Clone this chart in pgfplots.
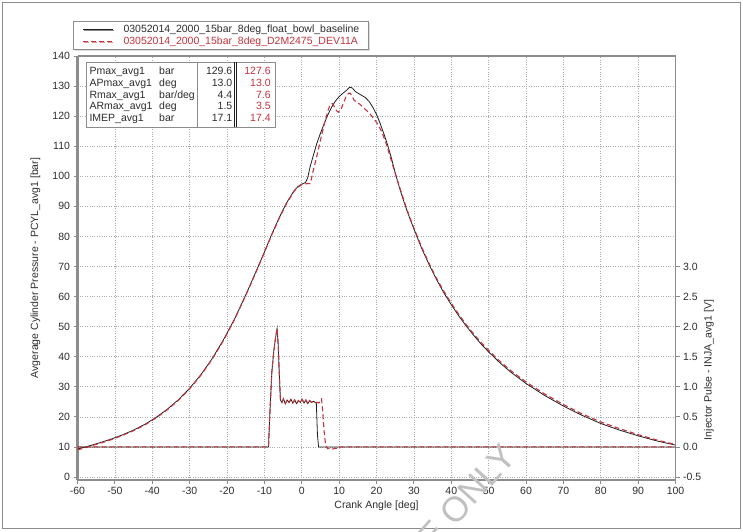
\documentclass[border=0pt]{standalone}
\usepackage{fontspec}
\setmainfont{Liberation Sans}
\usepackage{pgfplots}
\usepackage{pgfplotstable}
\pgfplotsset{compat=1.18}
\usetikzlibrary{shadows}
\definecolor{cblack}{RGB}{30,30,30}
\definecolor{cred}{RGB}{196,52,62}
\definecolor{axgray}{RGB}{140,140,140}
\definecolor{txt}{RGB}{45,45,45}
\definecolor{gridc}{RGB}{170,170,170}
\definecolor{wm}{RGB}{192,192,192}

\pgfplotstableread{
x y
-60 9.3
-57 10.3
-54 11.4
-51 12.6
-48 14.0
-45 15.6
-42 17.5
-39 19.8
-36 22.5
-33 25.7
-30 29.5
-27 34.0
-24 39.3
-21 45.5
-18 52.5
-15 60.5
-12 69.0
-10 74.8
-8 80.8
-6 86.3
-4 91.3
-2 95.3
-1 96.6
0 97.4
1 97.9
1.6 99.5
2.2 103.0
3 106.5
4 110.8
5 114.3
6 117.5
7 120.5
8 123.0
9 125.0
10 126.5
11 127.6
12 128.6
12.6 129.4
13 129.6
13.6 129.3
14.3 128.2
15.5 127.3
17 126.2
18 124.9
19 123.0
20 120.6
21 117.5
22 114.0
23 110.3
24 106.0
25 101.2
26 96.8
27 92.8
28 89.1
29 85.7
30 82.5
32 76.3
34 70.8
36 65.8
38 61.3
40 57.3
42 53.6
44 50.2
46 47.1
48 44.2
50 41.6
53 38.0
56 34.8
60 31.1
65 27.1
70 23.6
75 20.5
80 17.8
85 15.6
90 13.7
95 12.0
100 10.6
}\pbase

\pgfplotstableread{
x y
-60 9.0
-57 10.1
-54 11.2
-51 12.4
-48 13.8
-45 15.4
-42 17.3
-39 19.6
-36 22.3
-33 25.5
-30 29.3
-27 33.8
-24 39.1
-21 45.3
-18 52.3
-15 60.3
-12 68.8
-10 74.6
-8 80.6
-6 86.1
-4 91.1
-2 95.1
-1 96.4
0 97.2
1 97.5
2.3 97.6
3 101.5
4 106.5
5 112.0
6 117.2
7 121.8
7.6 123.8
8.2 124.2
8.8 123.0
9.3 121.8
9.8 121.3
10.5 122.3
11.3 124.8
12 127.0
12.6 127.6
13 127.6
13.5 126.6
14 125.3
14.7 124.6
15.5 124.0
16.5 122.8
17.5 121.7
18.5 120.4
19.5 118.8
20.5 117.0
21.5 114.5
22.5 111.2
23.5 107.2
24.5 103.0
25.5 99.0
26.5 95.2
27.5 91.4
28.5 87.7
30 82.8
32 76.7
34 71.2
36 66.2
38 61.8
40 57.8
42 54.1
44 50.7
46 47.6
48 44.7
50 42.1
53 38.5
56 35.3
60 31.6
65 27.6
70 24.1
75 21.0
80 18.3
85 16.1
90 14.1
95 12.3
100 10.8
}\pdev

\pgfplotstableread{
x y
-60 0
-8.9 0
-8.5 0.6
-8.0 1.25
-7.5 1.58
-7.0 1.82
-6.6 1.97
-6.3 1.7
-6.0 1.2
-5.7 0.78
-5.3 0.74
-4.9 0.80
-4.4 0.72
-3.9 0.78
-3.4 0.74
-2.9 0.79
-2.4 0.73
-1.9 0.78
-1.4 0.72
-0.9 0.77
-0.4 0.74
0.1 0.79
0.6 0.73
1.1 0.78
1.6 0.72
2.1 0.77
2.6 0.74
3.1 0.76
3.6 0.74
3.9 0.73
4.2 0.2
4.5 0
100 0
}\ibase

\pgfplotstableread{
x y
-60 0
-8.9 0
-8.5 0.6
-8.0 1.25
-7.5 1.58
-7.0 1.82
-6.6 1.97
-6.3 1.7
-6.0 1.2
-5.7 0.78
-5.3 0.74
-4.9 0.80
-4.4 0.72
-3.9 0.78
-3.4 0.74
-2.9 0.79
-2.4 0.73
-1.9 0.78
-1.4 0.72
-0.9 0.77
-0.4 0.74
0.1 0.79
0.6 0.73
1.1 0.78
1.6 0.72
2.1 0.77
2.6 0.74
3.1 0.76
3.6 0.74
4.1 0.74
4.6 0.73
5.0 0.78
5.3 0.80
5.6 0.6
6.0 0.25
6.4 0.03
6.9 -0.03
7.5 -0.02
8.3 -0.035
9.0 -0.02
9.8 -0.03
10.5 0
100 0
}\idev

\begin{document}
\begin{tikzpicture}[x=1pt,y=1pt,font=\fontsize{10.5}{12.6}\selectfont]
\useasboundingbox (0,0) rectangle (743,531);
\draw[axgray, line width=1.3pt] (2.7,2.6) rectangle (740.5,528.3);

\begin{axis}[
  at={(77.5pt,51pt)}, anchor=south west,
  scale only axis, width=598pt, height=424pt,
  xmin=-60, xmax=100, ymin=-1, ymax=140,
  xtick={-60,-50,...,100}, ytick={0,10,...,140},
  axis x line*=bottom, axis y line*=left,
  x axis line style={line width=2.2pt, color=axgray},
  y axis line style={line width=2.6pt, color=axgray},
  tick align=outside, major tick length=4pt,
  tick style={axgray, line width=0.8pt},
  grid=major, major grid style={gridc, dotted, line width=0.6pt},
  tick label style={text=txt, font=\fontsize{10.5}{12.6}\selectfont},
  /pgf/number format/assume math mode=true,
  xlabel={Crank Angle [deg]},
  ylabel={Avgerage Cylinder Pressure - PCYL\_avg1 [bar]},
  xlabel style={at={(axis description cs:0.5,0)}, anchor=center, yshift=-26pt, text=txt},
  ylabel style={at={(axis description cs:-0.0702,0.5)}, anchor=center, rotate=0, text=txt},
  label style={font=\fontsize{10.5}{12.6}\selectfont},
  legend style={at={(axis description cs:-0.0075,1.0825)}, anchor=north west,
    draw=axgray, fill=white, line width=0.8pt,
    drop shadow={shadow xshift=1.3pt, shadow yshift=-1.3pt, fill=gray!55},
    inner xsep=9pt, inner ysep=3pt, row sep=2pt, column sep=10pt,
    nodes={inner sep=0pt, text height=7.6pt, text depth=2.4pt},
    font=\fontsize{10.5}{12.6}\selectfont},
  legend cell align=left,
  legend image code/.code={\draw[#1] (0pt,0pt) -- (30pt,0pt);},
  clip=false,
]
\addplot[cblack, line width=0.8pt] table {\pbase};
\addlegendentry{\textcolor{txt}{03052014\_2000\_15bar\_8deg\_float\_bowl\_baseline}}
\addplot[cred, line width=1.1pt, dash pattern=on 5pt off 3pt] table {\pdev};
\addlegendentry{\textcolor{cred}{03052014\_2000\_15bar\_8deg\_D2M2475\_DEV11A}}
\end{axis}

\begin{axis}[
  at={(77.5pt,51pt)}, anchor=south west,
  scale only axis, width=598pt, height=424pt,
  xmin=-60, xmax=100, ymin=-0.55, ymax=6.5,
  axis y line*=right, axis x line*=top, xtick=\empty,
  ytick={-0.5,0,0.5,1,1.5,2,2.5,3},
  y axis line style={line width=1.6pt, color=axgray},
  x axis line style={line width=1.4pt, color=axgray},
  tick align=outside, major tick length=4pt,
  tick style={axgray, line width=0.8pt},
  tick label style={text=txt, font=\fontsize{10.5}{12.6}\selectfont},
  yticklabel style={/pgf/number format/.cd, fixed, fixed zerofill, precision=1, assume math mode=true},
  ylabel={Injector Pulse - INJA\_avg1 [V]},
  ylabel style={at={(axis description cs:1.056,0.2594)}, anchor=center, rotate=0, text=txt,
    font=\fontsize{10.5}{12.6}\selectfont},
  clip=false,
]
\addplot[cblack, line width=0.8pt] table {\ibase};
\addplot[cred, line width=1.1pt, dash pattern=on 5pt off 3pt] table {\idev};
\end{axis}

% statistics table
\fill[gray!55] (87.3,402.7) rectangle (276.3,467.7);
\draw[axgray, line width=0.8pt, fill=white] (86,404) rectangle (275,469);
\draw[axgray, line width=0.7pt] (197,404) -- (197,469);
\draw[cblack, line width=0.7pt] (234.3,404) -- (234.3,469);
\draw[cblack, line width=0.7pt] (236.3,404) -- (236.3,469);
\foreach \nm/\un/\va/\vb [count=\i from 0] in
  {Pmax\_avg1/bar/129.6/127.6, APmax\_avg1/deg/13.0/13.0, Rmax\_avg1/bar\slash deg/4.4/7.6,
   ARmax\_avg1/deg/1.5/3.5, IMEP\_avg1/bar/17.1/17.4}{
  \pgfmathsetmacro\yy{460-11.7*\i-3.8}
  \node[anchor=base west, inner sep=0pt, text=txt] at (89.3,\yy) {\nm};
  \node[anchor=base west, inner sep=0pt, text=txt] at (159,\yy) {\un};
  \node[anchor=base east, inner sep=0pt, text=txt] at (232.5,\yy) {\va};
  \node[anchor=base east, inner sep=0pt, text=cred] at (270.8,\yy) {\vb};
}

% watermark
\node[wm, rotate=48, inner sep=0pt, font=\fontsize{35}{40}\selectfont] at (450.5,16) {USE ONLY};
\end{tikzpicture}
\end{document}
